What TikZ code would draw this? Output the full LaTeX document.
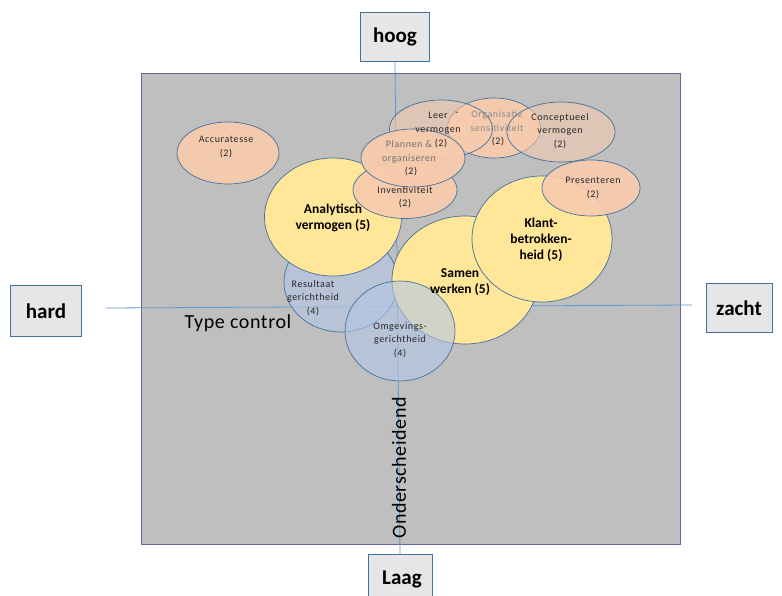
\documentclass[tikz,border=0pt]{standalone}
\usepackage{fontspec}
\setmainfont{Carlito}
\usetikzlibrary{shapes.geometric}
\definecolor{bgray}{HTML}{BFBFBF}
\definecolor{boxfill}{HTML}{E7E6E6}
\definecolor{edge}{HTML}{41719C}
\definecolor{axis}{HTML}{5B9BD5}
\definecolor{salmon}{HTML}{F8CBAD}
\definecolor{yel}{HTML}{FFE699}
\definecolor{blu}{HTML}{B4C7E7}
\tikzset{
  lbox/.style={draw=edge, fill=boxfill, line width=0.8pt, minimum width=69pt, minimum height=49pt, inner sep=0pt, font=\fontsize{21}{24}\selectfont\bfseries},
  ell/.style={ellipse, draw=edge, line width=0.7pt, inner sep=0pt},
  sal/.style={ell, fill=salmon, fill opacity=0.92},
  salt/.style={ell, fill=salmon, fill opacity=0.55},
  yl/.style={ell, fill=yel},
  bl/.style={ell, fill=blu, fill opacity=0.6},
  small/.style={font=\fontsize{10}{13.5}\selectfont\addfontfeature{LetterSpace=6}, align=center, text=black!85},
  big/.style={font=\fontsize{13.5}{16}\selectfont\bfseries, align=center},
  axline/.style={draw=axis, line width=0.8pt},
  bigtxt/.style={font=\fontsize{20}{22}\selectfont\addfontfeature{LetterSpace=3}}
}
\begin{document}
\begin{tikzpicture}[x=1pt,y=-1pt]
\useasboundingbox (0,0) rectangle (782,596);
% background field
\draw[fill=bgray, draw=gray!80!blue, line width=0.6pt] (141,73) rectangle (680,544);
% labels of axes
\node[lbox] (hoog) at (395,37) {hoog};
\node[lbox, minimum width=71pt, minimum height=51pt] (hard) at (46,311) {hard};
\node[lbox, minimum width=66pt] (zacht) at (739,308) {zacht};
\node[lbox, minimum width=64pt, minimum height=46pt, anchor=north] (laag) at (400,554) {};
\node[font=\fontsize{21}{24}\selectfont\bfseries] (laagt) at (402,579) {Laag};
% axes
\coordinate (hl) at (106,308);
\coordinate (hr) at (692,305);
\draw[axline] (hoog.south) -- (laag.north);
\draw[axline] (hl) -- (hr);
% ellipses
\node[sal, minimum width=102pt, minimum height=62pt] (acc) at (228,153) {};
\node[bl, minimum width=114pt, minimum height=100pt] (res) at (341,282) {};
\node[yl, minimum width=137pt, minimum height=118pt] (ana) at (333,217) {};
\node[yl, minimum width=146pt, minimum height=128pt] (sam) at (465,280) {};
\node[yl, minimum width=140pt, minimum height=126pt] (kla) at (542,239) {};
\node[bl, minimum width=110pt, minimum height=100pt] (omg) at (400,331) {};
\node[sal, minimum width=93pt, minimum height=60pt] (org) at (494,128) {};
\node[salt, minimum width=103pt, minimum height=58pt] (lee) at (441,129) {};
\node[salt, minimum width=108pt, minimum height=60pt] (con) at (561,132) {};
\node[sal, minimum width=98pt, minimum height=56pt] (pre) at (591,188) {};
\node[sal, minimum width=104pt, minimum height=57pt] (inv) at (405,190) {};
\node[sal, minimum width=104pt, minimum height=58pt] (pla) at (413,158) {};
% texts
\node[small] (tacc) at (226,147) {Accuratesse\\(2)};
\node[small, text=black!45] (torg) at (497,121) {Organisatie\\sensitiviteit};
\node[small] (torg2) at (498,142) {(2)};
\node[small] (tdash) at (457,114) {-};
\node[small] (tlee) at (438,123) {Leer\\vermogen};
\node[small] (tlee2) at (441,144) {(2)};
\node[small] (tcon) at (560,131) {Conceptueel\\vermogen\\(2)};
\node[small, text=black!55] (tpla) at (409,152) {Plannen \&\\organiseren};
\node[small] (tpla2) at (411,172) {(2)};
\node[small] (tinv) at (405,197) {Inventiviteit\\(2)};
\node[small] (tpre) at (593,188) {Presenteren\\(2)};
\node[big] (tana) at (333,218) {Analytisch\\vermogen (5)};
\node[big] (tsam) at (460,282) {Samen\\werken (5)};
\node[big] (tkla) at (541,240) {Klant-\\betrokken-\\heid (5)};
\node[small] (tres) at (313,298) {Resultaat\\gerichtheid\\(4)};
\node[small] (tomg) at (400,340) {Omgevings-\\gerichtheid\\(4)};
\node[bigtxt] (tc) at (238,323) {Type control};
\node[bigtxt, rotate=90] (ond) at (399,468) {Onderscheidend};
\end{tikzpicture}
\end{document}
